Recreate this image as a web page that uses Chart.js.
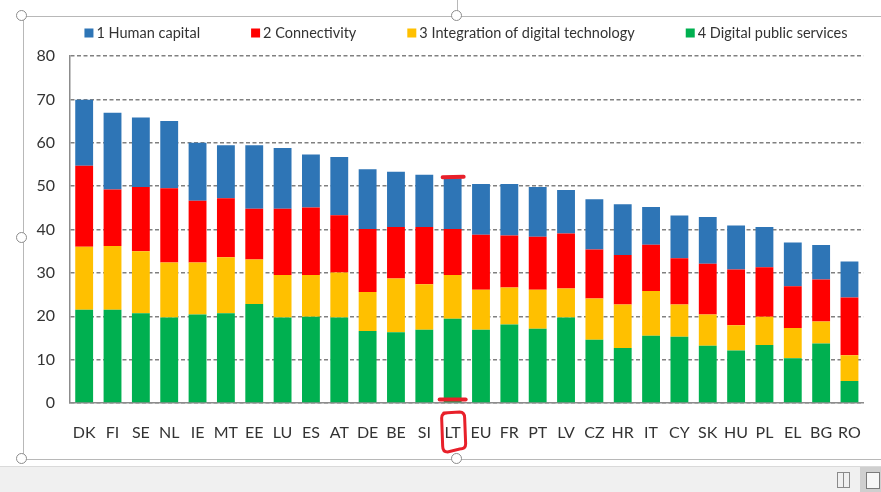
<!DOCTYPE html>
<html>
<head>
<meta charset="utf-8">
<script src="https://cdn.jsdelivr.net/npm/chart.js@4.4.1/dist/chart.umd.min.js"></script>
<style>
  html, body { margin:0; padding:0; background:#fff; width:881px; height:492px; overflow:hidden; }
  #wrap { position:absolute; left:0; top:0; width:881px; height:460px; }
  .ln { position:absolute; background:#b8b8b8; }
  .hd { position:absolute; width:9px; height:9px; border:1.5px solid #8c8c8c; border-radius:50%; background:#fff; box-sizing:content-box; }
  #status { position:absolute; left:0; top:466px; width:881px; height:26px; background:#f0f0f0; border-top:1px solid #dadada; }
</style>
</head>
<body>
<div class="ln" style="left:22px; top:16px; width:859px; height:1px;"></div>
<div class="ln" style="left:23px; top:16px; width:1px; height:443px;"></div>
<div class="ln" style="left:22px; top:459px; width:859px; height:1px;"></div>
<div class="ln" style="left:457px; top:0px; width:1px; height:12px;"></div>
<div id="wrap"><canvas id="c"></canvas></div>
<div class="hd" style="left:16px; top:10px;"></div>
<div class="hd" style="left:451px; top:10px;"></div>
<div class="hd" style="left:16px; top:232px;"></div>
<div class="hd" style="left:16px; top:453px;"></div>
<div class="hd" style="left:451px; top:453px;"></div>
<div id="status">
  <div style="position:absolute; left:837px; top:5px; width:5px; height:14px; border:1px solid #8a8a8a;"></div>
  <div style="position:absolute; left:843px; top:5px; width:5px; height:14px; border:1px solid #8a8a8a;"></div>
  <div style="position:absolute; left:860px; top:0px; width:21px; height:26px; background:#cfcfcf;"></div>
  <div style="position:absolute; left:866px; top:5px; width:12px; height:15px; border:1px solid #7a7a7a; background:#f6f6f6;"></div>
</div>
<script>
const categories = ['DK','FI','SE','NL','IE','MT','EE','LU','ES','AT','DE','BE','SI','LT','EU','FR','PT','LV','CZ','HR','IT','CY','SK','HU','PL','EL','BG','RO'];
const digitalPublicServices = [21.5,21.5,20.7,19.7,20.4,20.7,22.8,19.7,19.9,19.7,16.6,16.3,16.9,19.4,16.9,18.1,17.1,19.7,14.6,12.7,15.5,15.3,13.2,12.1,13.4,10.3,13.7,5.1];
const integrationDigitalTech = [14.5,14.7,14.3,12.7,12.0,12.9,10.3,9.8,9.6,10.4,9.0,12.4,10.5,10.1,9.2,8.5,9.0,6.7,9.5,10.0,10.3,7.4,7.2,5.8,6.5,7.0,5.1,5.9];
const connectivity = [18.7,13.0,14.8,17.1,14.2,13.6,11.7,15.3,15.6,13.2,14.5,11.9,13.2,10.6,12.7,12.0,12.2,12.7,11.3,11.4,10.7,10.7,11.7,12.9,11.4,9.6,9.7,13.3];
const humanCapital = [15.2,17.7,16.0,15.5,13.4,12.2,14.6,14.0,12.2,13.4,13.8,12.7,12.0,11.7,11.7,11.9,11.5,10.0,11.6,11.7,8.7,9.8,10.8,10.1,9.3,10.1,7.9,8.3];
const seriesLabels = ['4 Digital public services','3 Integration of digital technology','2 Connectivity','1 Human capital'];
const seriesColors = ['#00B050','#FFC000','#FF0000','#2E75B6'];
const yTicks = [0,10,20,30,40,50,60,70,80];
const highlighted = 'LT';

const FONT = 'Lato';

const legendPlugin = {
  id: 'customLegend',
  afterDraw(chart) {
    const ctx = chart.ctx;
    ctx.save();
    ctx.font = '14.5px ' + FONT;
    ctx.textBaseline = 'middle';
    const items = chart.data.datasets.map(d => ({ text: d.label, color: d.backgroundColor })).reverse();
    const box = 9, gapText = 3, gapItem = 51;
    const widths = items.map(it => box + gapText + ctx.measureText(it.text).width);
    const total = widths.reduce((a, b) => a + b, 0) + gapItem * (items.length - 1);
    let x = 466 - total / 2;
    const yc = 33;
    items.forEach((it, i) => {
      ctx.fillStyle = it.color;
      ctx.fillRect(x, yc - 4.5, box, box);
      ctx.fillStyle = '#333333';
      ctx.fillText(it.text, x + box + gapText, yc + 0.5);
      x += widths[i] + gapItem;
    });
    ctx.restore();
  }
};

const markPlugin = {
  id: 'redMarks',
  afterDraw(chart) {
    const xs = chart.scales.x, ys = chart.scales.y;
    const idx = categories.indexOf(highlighted);
    const total = digitalPublicServices[idx] + integrationDigitalTech[idx] + connectivity[idx] + humanCapital[idx];
    const cx = xs.getPixelForValue(idx);
    const ctx = chart.ctx;
    ctx.save();
    ctx.strokeStyle = '#E8202A';
    ctx.lineCap = 'round';
    ctx.lineWidth = 4;
    let y = ys.getPixelForValue(total) - 1;
    ctx.beginPath(); ctx.moveTo(cx - 10, y); ctx.lineTo(cx + 11, y - 0.5); ctx.stroke();
    y = ys.getPixelForValue(0) - 3.5;
    ctx.beginPath(); ctx.moveTo(cx - 13, y); ctx.lineTo(cx + 13, y); ctx.stroke();
    ctx.lineWidth = 3;
    const top = ys.getPixelForValue(0) + 9, bot = top + 40;
    ctx.beginPath();
    ctx.moveTo(cx - 9, top + 1);
    ctx.lineTo(cx + 7, top);
    ctx.quadraticCurveTo(cx + 12, top, cx + 12, top + 6);
    ctx.lineTo(cx + 13, bot - 8);
    ctx.quadraticCurveTo(cx + 13, bot - 3, cx + 7, bot - 3);
    ctx.lineTo(cx - 5, bot);
    ctx.quadraticCurveTo(cx - 10, bot, cx - 10, bot - 6);
    ctx.lineTo(cx - 11, top + 6);
    ctx.quadraticCurveTo(cx - 11, top + 1, cx - 6, top + 1);
    ctx.stroke();
    ctx.restore();
  }
};

const datasets = [digitalPublicServices, integrationDigitalTech, connectivity, humanCapital].map((data, i) => ({
  label: seriesLabels[i],
  data: data,
  backgroundColor: seriesColors[i],
  borderWidth: 0,
  barPercentage: 0.63,
  categoryPercentage: 1.0
}));

new Chart(document.getElementById('c'), {
  type: 'bar',
  data: { labels: categories, datasets: datasets },
  options: {
    responsive: true,
    maintainAspectRatio: false,
    animation: false,
    layout: { padding: { top: 56, right: 9, bottom: 0, left: 0 } },
    plugins: { legend: { display: false }, tooltip: { enabled: false } },
    scales: {
      x: {
        stacked: true,
        grid: { display: false, drawTicks: false },
        border: { display: true, color: '#8c8c8c', width: 1.5 },
        ticks: { color: '#333333', font: { family: FONT, size: 16 }, padding: 20, maxRotation: 0, autoSkip: false },
        afterFit(s) { s.height = 57; }
      },
      y: {
        stacked: true,
        min: 0, max: 80,
        afterBuildTicks(s) { s.ticks = yTicks.map(v => ({ value: v })); },
        grid: { color: '#808080', lineWidth: 1.5, drawTicks: false },
        border: { display: true, color: '#8c8c8c', width: 1.5, dash: [4, 2.5] },
        ticks: { color: '#333333', font: { family: FONT, size: 16 }, padding: 15 },
        afterFit(s) { s.width = 70; }
      }
    }
  },
  plugins: [legendPlugin, markPlugin]
});
</script>
</body>
</html>
